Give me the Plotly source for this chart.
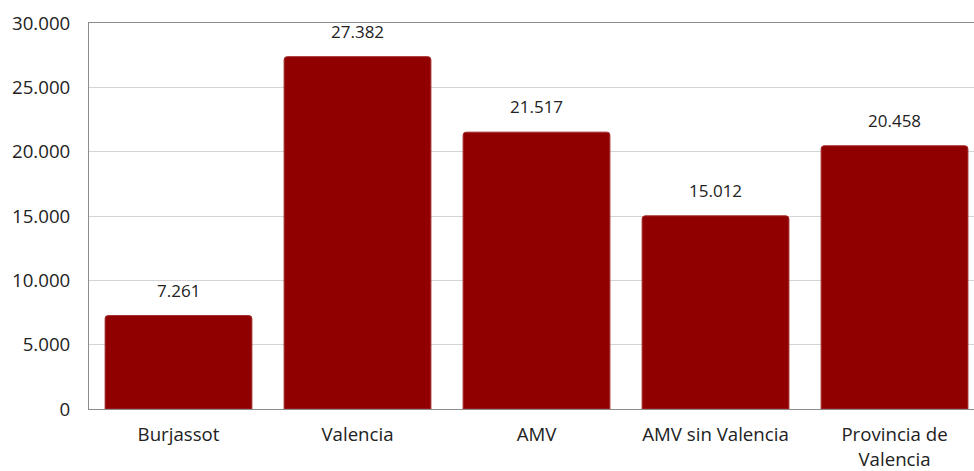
import plotly.graph_objects as go

categories = ["Burjassot", "Valencia", "AMV", "AMV sin Valencia", "Provincia de<br>Valencia"]
values = [7261, 27382, 21517, 15012, 20458]
value_labels = ["7.261", "27.382", "21.517", "15.012", "20.458"]
y_ticks = [0, 5000, 10000, 15000, 20000, 25000, 30000]
y_tick_labels = ["0", "5.000", "10.000", "15.000", "20.000", "25.000", "30.000"]

FONT = "Open Sans"
TXT = "#222222"

fig = go.Figure()
fig.add_trace(go.Bar(
    x=categories, y=values, width=0.82,
    marker=dict(color="#900000", line=dict(color="#a32a2a", width=1), cornerradius=3),
    hoverinfo="skip",
))
for c, v, t in zip(categories, values, value_labels):
    fig.add_annotation(x=c, y=v, text=t, showarrow=False, yanchor="bottom",
                       yshift=12, font=dict(family=FONT, size=17, color=TXT))

fig.update_layout(
    width=974, height=471,
    margin=dict(l=89, r=0, t=23, b=60),
    paper_bgcolor="white", plot_bgcolor="white",
    showlegend=False,
    separators=",.",
    font=dict(family=FONT, size=18.67, color=TXT),
    xaxis=dict(range=[-0.5, 4.444], showline=True, mirror=True, linecolor="#8c8c8c",
               linewidth=1, showgrid=False, ticks="", ticklabelstandoff=9,
               tickfont=dict(size=18.67, color=TXT)),
    yaxis=dict(range=[0, 30000], tickvals=y_ticks, ticktext=y_tick_labels,
               showline=True, linecolor="#8c8c8c", linewidth=1,
               gridcolor="#d4d4d4", gridwidth=1, zeroline=False, ticks="",
               ticklabelstandoff=14, tickfont=dict(size=18.67, color=TXT)),
)
fig.write_html("out.html", config={"displayModeBar": False},
               post_script="document.body.style.margin='0';")
